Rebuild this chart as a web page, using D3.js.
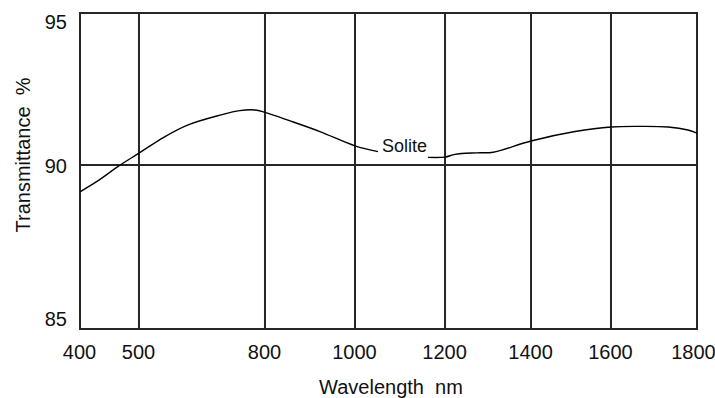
<!DOCTYPE html>
<html>
<head>
<meta charset="utf-8">
<script src="https://cdn.jsdelivr.net/npm/d3@7"></script>
<style>
  html, body { margin: 0; padding: 0; background: #fff; }
  svg { display: block; }
  text { font-family: "Liberation Sans", Arial, sans-serif; fill: #111; }
</style>
</head>
<body>
<svg id="chart" width="715" height="398"></svg>
<script>
// Wavelength ticks (nm) and transmittance ticks (%)
const xTicks = [400, 500, 800, 1000, 1200, 1400, 1600, 1800];
const yTicks = [85, 90, 95];

// Solite transmittance curve; null leaves room for the series label
const wavelength = [400, 434, 464, 500, 560, 617, 693, 740, 776, 800, 856, 922, 1000, 1051, 1110, 1162, 1200, 1223, 1274, 1312, 1400, 1510, 1600, 1667, 1733, 1779, 1800];
const transmittance = [89.18, 89.56, 89.95, 90.39, 90.92, 91.32, 91.64, 91.79, 91.81, 91.73, 91.45, 91.10, 90.63, 90.44, null, 90.25, 90.26, 90.35, 90.40, 90.42, 90.79, 91.10, 91.25, 91.27, 91.25, 91.15, 91.05];

const seriesName = "Solite";
const seriesLabelAt = 1060;

const xTitle = "Wavelength  nm";
const yTitle = "Transmittance  %";

const margin = { top: 13, left: 80 };
const width = 617, height = 316;

const svg = d3.select("#chart");
const g = svg.append("g").attr("transform", `translate(${margin.left},${margin.top})`);

// The printed axis is not evenly spaced: each tick gets its own stop
const xStops = [0, 0.0956, 0.2998, 0.4457, 0.5916, 0.7310, 0.8606, 1];
const x = d3.scaleLinear().domain(xTicks).range(xStops.map(f => f * width));
const y = d3.scaleLinear().domain(yTicks).range([height, height * 0.481, 0]);

const gridColor = "#262626";

// Vertical grid lines
g.selectAll("line.vgrid")
  .data(xTicks.slice(1, -1))
  .join("line")
  .attr("class", "vgrid")
  .attr("x1", d => x(d)).attr("x2", d => x(d))
  .attr("y1", 0).attr("y2", height)
  .attr("stroke", gridColor).attr("stroke-width", 2);

// Horizontal grid line at 90 %
g.selectAll("line.hgrid")
  .data(yTicks.slice(1, -1))
  .join("line")
  .attr("class", "hgrid")
  .attr("x1", 0).attr("x2", width)
  .attr("y1", d => y(d)).attr("y2", d => y(d))
  .attr("stroke", gridColor).attr("stroke-width", 2);

// Frame
g.append("rect")
  .attr("x", 0).attr("y", 0)
  .attr("width", width).attr("height", height)
  .attr("fill", "none")
  .attr("stroke", gridColor).attr("stroke-width", 2);

// X tick labels
const xAxis = d3.axisBottom(x).tickValues(xTicks).tickSize(0).tickPadding(0).tickFormat(d3.format("d"));
const gx = g.append("g").attr("transform", `translate(0,${height})`).call(xAxis);
gx.select(".domain").remove();
gx.selectAll("text")
  .attr("y", 30).attr("dy", 0)
  .attr("font-size", 20)
  .attr("font-family", "Liberation Sans, Arial, sans-serif")
  .attr("fill", "#111")
  .attr("dx", d => d === 1800 ? -4 : -1);

// Y tick labels
const yAxis = d3.axisLeft(y).tickValues(yTicks).tickSize(0).tickPadding(13).tickFormat(d3.format("d"));
const gy = g.append("g").call(yAxis);
gy.select(".domain").remove();
gy.selectAll("text")
  .attr("font-size", 20)
  .attr("font-family", "Liberation Sans, Arial, sans-serif")
  .attr("fill", "#111")
  .attr("dy", d => d === 95 ? 15 : d === 85 ? -4 : 8);

// Curve
const pts = wavelength.map((w, i) => ({ w, v: transmittance[i] }));
const line = d3.line()
  .defined(d => d.v != null)
  .x(d => x(d.w))
  .y(d => y(d.v))
  .curve(d3.curveCatmullRom.alpha(0.5));

g.append("path")
  .datum(pts)
  .attr("d", line)
  .attr("fill", "none")
  .attr("stroke", "#000")
  .attr("stroke-width", 1.4);

// Series label sitting in the gap of the curve
const before = pts.filter(d => d.v != null && d.w < seriesLabelAt).pop();
g.append("text")
  .attr("x", x(seriesLabelAt))
  .attr("y", y(before.v) + 0.5)
  .attr("font-size", 18)
  .text(seriesName);

// Axis titles
svg.append("text")
  .attr("x", 391).attr("y", 394)
  .attr("text-anchor", "middle")
  .attr("font-size", 20)
  .style("white-space", "pre")
  .text(xTitle);

svg.append("text")
  .attr("transform", "translate(30,155) rotate(-90)")
  .attr("text-anchor", "middle")
  .attr("font-size", 20)
  .style("white-space", "pre")
  .text(yTitle);
</script>
</body>
</html>
